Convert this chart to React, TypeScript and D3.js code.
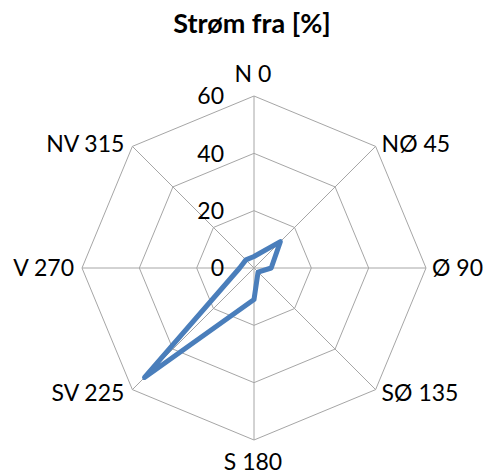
import * as d3 from "d3";
import { useEffect, useRef } from "react";

const directions = ["N 0", "NØ 45", "Ø 90", "SØ 135", "S 180", "SV 225", "V 270", "NV 315"];
const values = [4, 13, 6, 2, 11, 54, 5, 4];
const ticks = [0, 20, 40, 60];

const W = 486;
const H = 475;
const cx = 254;
const cy = 268;
const R = 172;
const FONT = "Lato, 'Open Sans', sans-serif";

const App = () => {
  const svgRef = useRef<SVGSVGElement | null>(null);

  useEffect(() => {
    if (!svgRef.current) return;
    const svg = d3.select(svgRef.current);
    svg.selectAll("*").remove();

    const rScale = d3.scaleLinear().domain([0, 60]).range([0, R]);
    const angle = (i: number) => (i * 2 * Math.PI) / directions.length;
    const pt = (i: number, r: number): [number, number] => [
      cx + r * Math.sin(angle(i)),
      cy - r * Math.cos(angle(i)),
    ];

    const root = svg.append("g");

    // grid rings
    ticks
      .filter((t) => t > 0)
      .forEach((t) => {
        const ring = directions.map((_, i) => pt(i, rScale(t)));
        root
          .append("polygon")
          .attr("points", ring.map((p) => p.join(",")).join(" "))
          .attr("fill", "none")
          .attr("stroke", "#a6a6a6")
          .attr("stroke-width", 1);
      });

    // spokes
    directions.forEach((_, i) => {
      const [x, y] = pt(i, R);
      root
        .append("line")
        .attr("x1", cx)
        .attr("y1", cy)
        .attr("x2", x)
        .attr("y2", y)
        .attr("stroke", "#a6a6a6")
        .attr("stroke-width", 1);
    });

    // tick labels
    root
      .selectAll("text.tick")
      .data(ticks)
      .join("text")
      .attr("class", "tick")
      .attr("x", cx - 30)
      .attr("y", (t) => cy - rScale(t))
      .attr("dy", "0.36em")
      .attr("text-anchor", "end")
      .style("font-family", FONT)
      .style("font-size", "23px")
      .attr("fill", "#000")
      .text((t) => String(t));

    // direction labels
    directions.forEach((label, i) => {
      const a = angle(i);
      const s = Math.sin(a);
      const c = Math.cos(a);
      const [x, y] = pt(i, R);
      let anchor = "middle";
      let tx = x;
      let ty = y;
      let dy = "0.36em";
      if (Math.abs(s) < 0.01) {
        tx = x - 1;
        if (c > 0) {
          ty = y - 14;
          dy = "0";
        } else {
          ty = y + 30;
          dy = "0";
        }
      } else {
        anchor = s > 0 ? "start" : "end";
        tx = x + (s > 0 ? 6 : -8);
        ty = y + (Math.abs(c) < 0.01 ? 0 : c > 0 ? -3 : 3);
      }
      root
        .append("text")
        .attr("x", tx)
        .attr("y", ty)
        .attr("dy", dy)
        .attr("text-anchor", anchor)
        .style("font-family", FONT)
        .style("font-size", "23px")
        .attr("fill", "#000")
        .text(label);
    });

    // series
    const line = d3
      .lineRadial<number>()
      .angle((_, i) => angle(i))
      .radius((v) => rScale(v))
      .curve(d3.curveLinearClosed);

    root
      .append("path")
      .attr("transform", `translate(${cx},${cy})`)
      .attr("d", line(values))
      .attr("fill", "none")
      .attr("stroke", "#4a7ebb")
      .attr("stroke-width", 5)
      .attr("stroke-linejoin", "round");

    // title
    svg
      .append("text")
      .attr("x", 252)
      .attr("y", 33)
      .attr("text-anchor", "middle")
      .style("font-family", FONT)
      .style("font-size", "27px")
      .style("font-weight", "bold")
      .attr("fill", "#000")
      .text("Strøm fra [%]");
  }, []);

  return (
    <svg
      ref={svgRef}
      width={W}
      height={H}
      style={{ position: "absolute", left: 0, top: 0, background: "#fff" }}
    />
  );
};

export default App;
